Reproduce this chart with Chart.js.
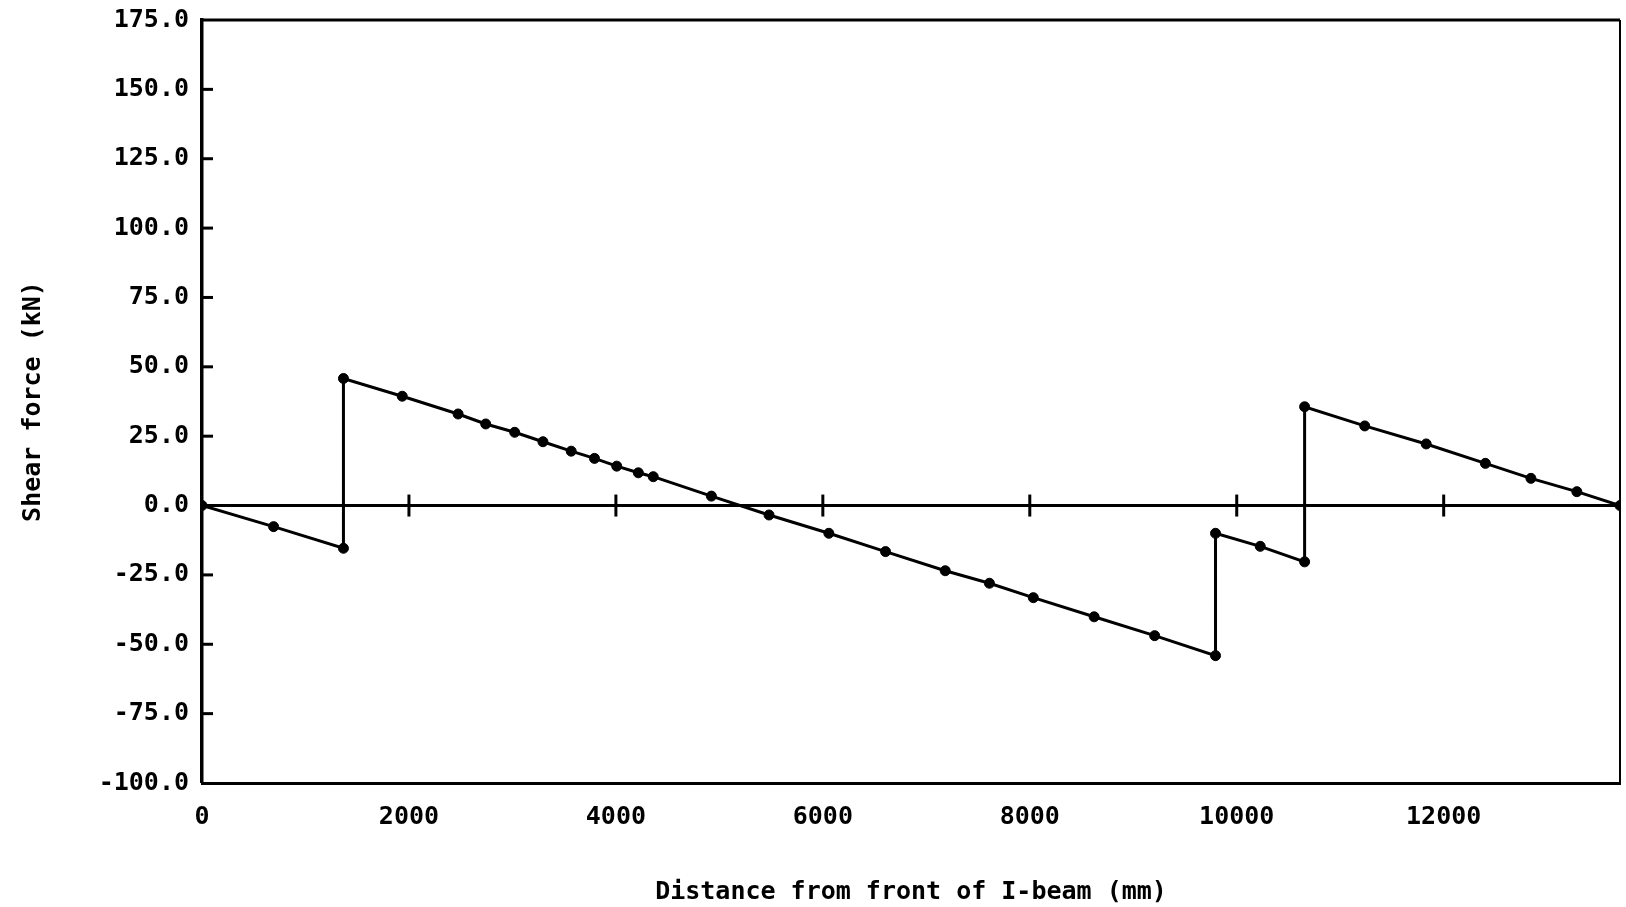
<!DOCTYPE html>
<html>
<head>
<meta charset="utf-8">
<script src="https://cdn.jsdelivr.net/npm/chart.js@4/dist/chart.umd.min.js"></script>
<style>
html,body{margin:0;padding:0;background:#fff;}
#wrap{width:1626px;height:907px;position:relative;}
</style>
</head>
<body>
<div id="wrap"><canvas id="c"></canvas></div>
<script>
// ---- data ----
const distances = [0, 692, 1367, 1367, 1935, 2475, 2742, 3022, 3295, 3568, 3793, 4008, 4217, 4361, 4923, 5480, 6058, 6606, 7183, 7610, 8034, 8622, 9207, 9795, 9795, 10227, 10656, 10656, 11237, 11831, 12403, 12843, 13287, 13704];
const shearForce = [0, -7.6, -15.4, 45.8, 39.4, 33.0, 29.4, 26.4, 23.0, 19.6, 17.0, 14.2, 11.8, 10.4, 3.4, -3.4, -10.0, -16.6, -23.5, -28.0, -33.2, -40.1, -46.9, -54.1, -10.0, -14.7, -20.3, 35.6, 28.7, 22.2, 15.2, 9.8, 5.0, 0];
const xTickValues = [0, 2000, 4000, 6000, 8000, 10000, 12000];
const yTickValues = [-100, -75, -50, -25, 0, 25, 50, 75, 100, 125, 150, 175];
const zeroLineCrossValues = [2000, 4000, 6000, 8000, 10000, 12000];
const xTitle = 'Distance from front of I-beam (mm)';
const yTitle = 'Shear force (kN)';
const xMin = 0, xMax = 13704, yMin = -100, yMax = 175;

const FONT = '"DejaVu Sans Mono", "Liberation Mono", monospace';
const INK = '#000';

const points = distances.map((d, i) => ({x: d, y: shearForce[i]}));

const decorPlugin = {
  id: 'decor',
  beforeDatasetsDraw(chart) {
    const {ctx, chartArea: a, scales: {x, y}} = chart;
    ctx.save();
    ctx.strokeStyle = INK;
    ctx.lineCap = 'butt';
    // top and right frame lines
    ctx.lineWidth = 3;
    ctx.beginPath();
    ctx.moveTo(a.left, a.top); ctx.lineTo(a.right, a.top);
    ctx.stroke();
    ctx.lineWidth = 2;
    ctx.beginPath();
    ctx.moveTo(a.right, a.top); ctx.lineTo(a.right, a.bottom);
    ctx.stroke();
    // inward ticks on the left axis
    ctx.lineWidth = 3;
    yTickValues.forEach(v => {
      if (v === yMin || v === yMax) return;
      const py = y.getPixelForValue(v);
      ctx.beginPath();
      ctx.moveTo(a.left, py); ctx.lineTo(a.left + 11, py);
      ctx.stroke();
    });
    // crosses on the zero line
    const y0 = y.getPixelForValue(0);
    ctx.lineWidth = 3;
    zeroLineCrossValues.forEach(v => {
      const px = x.getPixelForValue(v);
      ctx.beginPath();
      ctx.moveTo(px, y0 - 11); ctx.lineTo(px, y0 + 11);
      ctx.stroke();
    });
    ctx.restore();
  }
};

new Chart(document.getElementById('c'), {
  type: 'line',
  data: {
    datasets: [{
      data: points,
      borderColor: INK,
      backgroundColor: INK,
      borderWidth: 3,
      pointRadius: 5,
      pointStyle: 'circle',
      pointBackgroundColor: INK,
      pointBorderColor: INK,
      pointBorderWidth: 1,
      tension: 0,
      fill: false
    }]
  },
  options: {
    responsive: true,
    maintainAspectRatio: false,
    animation: false,
    devicePixelRatio: 1,
    layout: {padding: {top: 20, right: 3, left: 0, bottom: 0}},
    plugins: {legend: {display: false}, tooltip: {enabled: false}},
    scales: {
      x: {
        type: 'linear',
        min: xMin,
        max: xMax,
        afterBuildTicks: s => { s.ticks = xTickValues.map(v => ({value: v})); },
        afterFit: s => { s.height = 124; s.paddingLeft = 0; s.paddingRight = 0; },
        grid: {drawOnChartArea: false, drawTicks: false},
        border: {display: true, color: INK, width: 3},
        ticks: {
          padding: 19,
          color: INK,
          maxRotation: 0,
          autoSkip: false,
          font: {family: FONT, size: 25, weight: 'bold'},
          callback: v => String(v)
        },
        title: {
          display: true,
          text: xTitle,
          color: INK,
          font: {family: FONT, size: 25, weight: 'bold'},
          padding: {top: 0, bottom: 0}
        }
      },
      y: {
        type: 'linear',
        min: yMin,
        max: yMax,
        afterBuildTicks: s => { s.ticks = yTickValues.map(v => ({value: v})); },
        afterFit: s => { s.width = 202; s.paddingTop = 0; s.paddingBottom = 0; },
        grid: {
          drawTicks: false,
          color: c => (c.tick && c.tick.value === 0) ? INK : 'rgba(0,0,0,0)',
          lineWidth: c => (c.tick && c.tick.value === 0) ? 3 : 0
        },
        border: {display: true, color: INK, width: 3.5},
        ticks: {
          padding: 13,
          color: INK,
          font: {family: FONT, size: 25, weight: 'bold'},
          callback: v => Number(v).toFixed(1)
        },
        title: {
          display: true,
          text: yTitle,
          color: INK,
          font: {family: FONT, size: 25, weight: 'bold'},
          padding: {top: 18, bottom: 0}
        }
      }
    }
  },
  plugins: [decorPlugin]
});
</script>
</body>
</html>
